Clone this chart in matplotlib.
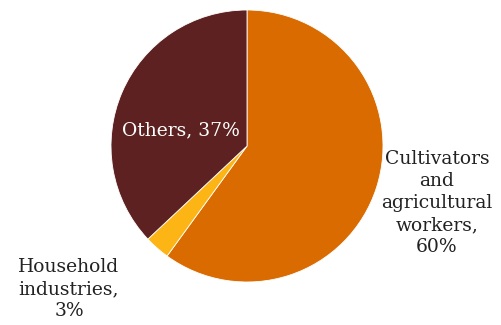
import matplotlib
matplotlib.use("Agg")
import matplotlib.pyplot as plt

categories = ["Cultivators and agricultural workers", "Household industries", "Others"]
values = [60, 3, 37]
label_texts = ["Cultivators\nand\nagricultural\nworkers,\n60%", "Household\nindustries,\n3%", "Others, 37%"]
colors = ["#D96B00", "#FDB515", "#5C2120"]

W, H = 501, 325
fig = plt.figure(figsize=(W / 100, H / 100), dpi=100)
ax = fig.add_axes([0, 0, 1, 1])

ax.pie(values, colors=colors, startangle=90, counterclock=False,
       center=(247, H - 146), radius=136, frame=True,
       wedgeprops=dict(edgecolor="white", linewidth=0.6))
ax.set_xlim(0, W)
ax.set_ylim(0, H)
ax.set_aspect("equal")
ax.axis("off")

font = dict(family="DejaVu Serif", fontsize=13.5, ha="center", va="center", linespacing=1.3)
ax.text(437, H - 203, label_texts[0], color="#222222", **font)
ax.text(69, H - 289, label_texts[1], color="#222222", **font)
ax.text(181, H - 130, label_texts[2], color="white", **font)

fig.savefig("out.png", dpi=100)
